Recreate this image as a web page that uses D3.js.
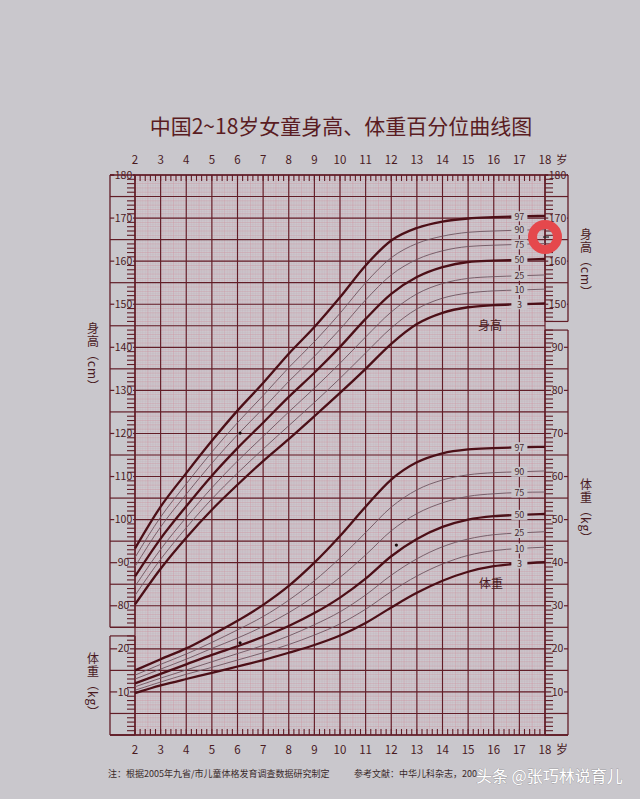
<!DOCTYPE html>
<html><head><meta charset="utf-8">
<script src="https://cdn.jsdelivr.net/npm/d3@7"></script>
<style>html,body{margin:0;padding:0;background:#c9c7cc;}svg{display:block;}</style>
</head><body>
<svg id="chart" width="640" height="799"></svg>
<script>
// ---------------- data ----------------
const ages = [2,3,4,5,6,7,8,9,10,11,12,13,14,15,16,17,18];
const percentiles = ["3","10","25","50","75","90","97"];
// height (cm)
const heightP3  = [80.3,88.6,95.8,102.3,108.1,113.6,118.7,124.0,129.4,135.0,140.8,145.4,148.0,149.3,149.8,150.0,150.2];
const heightP10 = [82.4,90.8,98.1,104.8,110.8,116.4,121.8,127.2,132.8,138.7,144.5,148.9,151.4,152.6,153.1,153.3,153.5];
const heightP25 = [84.5,93.1,100.5,107.4,113.6,119.3,125.0,130.5,136.3,142.4,148.2,152.4,154.8,156.0,156.4,156.6,156.8];
const heightP50 = [86.8,95.6,103.1,110.2,116.6,122.5,128.5,134.1,140.1,146.6,152.4,156.3,158.6,159.8,160.1,160.3,160.5];
const heightP75 = [89.1,98.3,105.9,113.1,119.7,125.8,132.1,137.9,144.2,151.0,156.8,160.4,162.4,163.4,163.7,163.9,164.1];
const heightP90 = [91.2,100.6,108.3,115.7,122.5,128.8,135.3,141.3,147.9,155.0,160.8,164.1,165.8,166.7,167.0,167.2,167.3];
const heightP97 = [93.3,103.0,110.8,118.3,125.3,131.7,138.5,144.7,151.6,159.0,164.8,167.7,169.2,169.9,170.2,170.4,170.5];
// weight (kg)
const weightP3  = [9.7,11.5,13.0,14.4,15.9,17.4,19.1,20.9,23.1,26.0,29.6,33.0,35.8,37.9,39.2,39.8,40.1];
const weightP10 = [10.4,12.3,14.1,15.7,17.4,19.1,21.0,23.2,25.8,29.2,33.3,36.9,39.7,41.7,42.8,43.3,43.6];
const weightP25 = [11.2,13.2,15.1,17.0,18.9,20.8,23.0,25.6,28.6,32.5,37.1,40.9,43.7,45.5,46.5,46.9,47.2];
const weightP50 = [12.0,14.2,16.4,18.6,20.6,22.8,25.3,28.3,31.9,36.3,41.5,45.5,48.3,50.0,50.8,51.1,51.3];
const weightP75 = [13.0,15.3,17.6,20.1,22.5,25.2,28.4,32.2,36.6,41.8,47.4,51.4,53.9,55.4,56.0,56.3,56.4];
const weightP90 = [13.9,16.4,18.8,21.5,24.4,27.5,31.3,35.8,41.1,47.0,52.9,56.9,59.2,60.4,60.9,61.1,61.3];
const weightP97 = [15.0,17.6,20.1,23.2,26.5,30.2,34.6,40.0,46.2,53.0,59.3,63.3,65.4,66.3,66.6,66.8,66.9];
// measured points marked on the chart
const measuredHeight = [[6.1,120.1]];
const measuredWeight = [[6.1,21.4],[12.2,44.1]];
// axis tick labels
const ageLabels = ["2","3","4","5","6","7","8","9","10","11","12","13","14","15","16","17","18"];
const heightTickLeft = [80,90,100,110,120,130,140,150,160,170,180];
const weightTickLeft = [10,20];
const heightTickRight = [150,160,170,180];
const weightTickRight = [10,20,30,40,50,60,70,80,90];

const heightSeries = [heightP3,heightP10,heightP25,heightP50,heightP75,heightP90,heightP97];
const weightSeries = [weightP3,weightP10,weightP25,weightP50,weightP75,weightP90,weightP97];

// ---------------- drawing ----------------
const svg = d3.select("#chart");
const W = 640, H = 799;
const L = 135, R = 545, T = 175, B = 735;
const x = d3.scaleLinear().domain([2,18]).range([L,R]);
const yW = d3.scaleLinear().domain([0,130]).range([B,T]);
const yH = d3.scaleLinear().domain([50,180]).range([B,T]);
const dark = "#621d27";
const txt = "#4a1a1f";
const pageBg = "#c9c7cc";
const font = "'Noto Sans CJK SC','Noto Sans',sans-serif";

svg.append("rect").attr("width",W).attr("height",H).attr("fill",pageBg);

// title
svg.append("text").attr("x",341).attr("y",134).attr("text-anchor","middle")
  .attr("font-family",font).attr("font-size",21).attr("fill","#5a1c22")
  .text("中国2~18岁女童身高、体重百分位曲线图");

// plot background
svg.append("rect").attr("x",L).attr("y",T).attr("width",R-L).attr("height",B-T).attr("fill","#ccc6cc");

const g = svg.append("g");
// fine mesh
for (let i = 0; i <= 160; i++) {
  const a = 2 + i/10;
  const mid = i % 5 === 0;
  g.append("line").attr("x1",x(a)).attr("x2",x(a)).attr("y1",T).attr("y2",B)
   .attr("stroke", mid ? "#cf8f9c" : "#c4a9b3").attr("stroke-width",mid?0.55:0.4).attr("opacity",mid?0.7:0.55);
}
for (let i = 0; i <= 260; i++) {
  const u = i/2;
  const one = i % 2 === 0;
  g.append("line").attr("x1",L).attr("x2",R).attr("y1",yW(u)).attr("y2",yW(u))
   .attr("stroke", one ? "#cf8f9c" : "#c4a9b3").attr("stroke-width",one?0.55:0.4).attr("opacity",one?0.7:0.55);
}
// dark grid
for (let u = 0; u <= 130; u += 5) {
  g.append("line").attr("x1",L).attr("x2",R).attr("y1",yW(u)).attr("y2",yW(u))
   .attr("stroke",dark).attr("stroke-width",1.15);
}
ages.forEach(a => {
  g.append("line").attr("x1",x(a)).attr("x2",x(a)).attr("y1",T).attr("y2",B)
   .attr("stroke",dark).attr("stroke-width",1.15);
});
// top / bottom ticks every 0.2 year
for (let i = 0; i <= 80; i++) {
  const a = 2 + i/5;
  g.append("line").attr("x1",x(a)).attr("x2",x(a)).attr("y1",T).attr("y2",T+6).attr("stroke",dark).attr("stroke-width",1.1);
  g.append("line").attr("x1",x(a)).attr("x2",x(a)).attr("y1",B).attr("y2",B-6).attr("stroke",dark).attr("stroke-width",1.1);
}

// side bands
function band(side, scale, lo, hi, labels) {
  const inner = side === "left" ? L : R;
  const outer = side === "left" ? 110 : 568;
  const dir = side === "left" ? -1 : 1;
  const bg = svg.append("g");
  bg.append("line").attr("x1",outer).attr("x2",outer).attr("y1",scale(lo)).attr("y2",scale(hi)).attr("stroke",dark).attr("stroke-width",1.3);
  bg.append("line").attr("x1",inner).attr("x2",inner).attr("y1",scale(lo)).attr("y2",scale(hi)).attr("stroke",dark).attr("stroke-width",1.4);
  bg.append("line").attr("x1",outer).attr("x2",inner).attr("y1",scale(lo)).attr("y2",scale(lo)).attr("stroke",dark).attr("stroke-width",1.2);
  bg.append("line").attr("x1",outer).attr("x2",inner).attr("y1",scale(hi)).attr("y2",scale(hi)).attr("stroke",dark).attr("stroke-width",1.2);
  for (let v = Math.ceil(lo); v <= hi; v++) {
    const len = v % 5 === 0 ? Math.abs(outer-inner) : 8;
    bg.append("line").attr("x1",inner).attr("x2",inner+dir*len).attr("y1",scale(v)).attr("y2",scale(v))
      .attr("stroke",dark).attr("stroke-width",v%5===0?1.2:1.1);
  }
  const cx = (inner+outer)/2 + 1;
  labels.forEach(v => {
    const t = bg.append("text").attr("x",cx).attr("y",scale(v)+3.6).attr("text-anchor","middle")
      .attr("font-family",font).attr("font-size",10.5).attr("fill",txt).text(v);
    const bb = t.node().getBBox();
    bg.insert("rect","text").attr("x",bb.x-0.5).attr("y",scale(v)-2.5).attr("width",bb.width+1).attr("height",5).attr("fill",pageBg);
  });
}
band("left", yH, 75, 180, heightTickLeft);
band("left", yW, 0, 23, weightTickLeft);
band("right", yH, 146, 180, heightTickRight);
band("right", yW, 0, 94, weightTickRight);
svg.append("line").attr("x1",110).attr("x2",568).attr("y1",T).attr("y2",T).attr("stroke",dark).attr("stroke-width",1.4);
svg.append("line").attr("x1",110).attr("x2",568).attr("y1",B).attr("y2",B).attr("stroke",dark).attr("stroke-width",1.6);

// age labels
ageLabels.forEach((s,i) => {
  svg.append("text").attr("x",x(ages[i])).attr("y",164).attr("text-anchor","middle")
    .attr("font-family",font).attr("font-size",11.5).attr("fill",txt).text(s);
  svg.append("text").attr("x",x(ages[i])).attr("y",754).attr("text-anchor","middle")
    .attr("font-family",font).attr("font-size",11.5).attr("fill",txt).text(s);
});
svg.append("text").attr("x",556).attr("y",163.5).attr("font-family",font).attr("font-size",11.5).attr("fill",txt).text("岁");
svg.append("text").attr("x",556).attr("y",754).attr("font-family",font).attr("font-size",12).attr("fill",txt).text("岁");

// vertical axis titles
function vtitle(xp, yp, s) {
  svg.append("text").attr("x",xp).attr("y",yp).attr("font-family",font).attr("font-size",12)
    .attr("fill",txt).style("writing-mode","vertical-rl").style("letter-spacing","1px").text(s);
}
vtitle(93, 322, "身高（cm）");
vtitle(93, 652, "体重（kg）");
vtitle(586, 228, "身高（cm）");
vtitle(586, 478, "体重（kg）");

// curves
const thick = ["3","50","97"];
function drawCurves(series, scale) {
  series.forEach((vals, i) => {
    const p = percentiles[i];
    const line = d3.line().x(d => x(d[0])).y(d => scale(d[1])).curve(d3.curveMonotoneX);
    svg.append("path").datum(ages.map((a,j) => [a, vals[j]])).attr("d", line)
      .attr("fill","none")
      .attr("stroke", thick.includes(p) ? "#4c0f17" : "#6e5560")
      .attr("stroke-width", thick.includes(p) ? 2.3 : 0.9);
  });
  series.forEach((vals, i) => {
    const p = percentiles[i];
    const yy = scale(vals[ages.indexOf(17)]);
    svg.append("rect").attr("x",x(17)-8).attr("y",yy-5).attr("width",16).attr("height",10).attr("fill","#c9c5ca");
    svg.append("text").attr("x",x(17)).attr("y",yy+3.3).attr("text-anchor","middle")
      .attr("font-family",font).attr("font-size",9).attr("fill","#4a2a30").text(p);
  });
}
drawCurves(heightSeries, yH);
drawCurves(weightSeries, yW);

svg.append("text").attr("x",490).attr("y",330).attr("text-anchor","middle").attr("font-family",font)
  .attr("font-size",12).attr("fill",txt).text("身高");
svg.append("text").attr("x",491).attr("y",588).attr("text-anchor","middle").attr("font-family",font)
  .attr("font-size",12).attr("fill",txt).text("体重");

// measured points
measuredHeight.forEach(d => svg.append("circle").attr("cx",x(d[0])).attr("cy",yH(d[1])).attr("r",1.6).attr("fill","#1a0a0a"));
measuredWeight.forEach(d => svg.append("circle").attr("cx",x(d[0])).attr("cy",yW(d[1])).attr("r",1.6).attr("fill","#1a0a0a"));

// red annotation ring
svg.append("circle").attr("cx",x(18)).attr("cy",yH(165.6)).attr("r",12.5).attr("fill","none")
  .attr("stroke","#e5484c").attr("stroke-width",9);
svg.append("line").attr("x1",x(18)-2).attr("x2",x(18)+4).attr("y1",yH(165.6)).attr("y2",yH(165.6)).attr("stroke","#222").attr("stroke-width",1.2);

// footnotes
svg.append("text").attr("x",108).attr("y",777).attr("font-family",font).attr("font-size",9).attr("fill","#3a2a2a")
  .text("注：根据2005年九省/市儿童体格发育调查数据研究制定");
svg.append("text").attr("x",354).attr("y",777).attr("font-family",font).attr("font-size",9).attr("fill","#3a2a2a")
  .text("参考文献：中华儿科杂志，200");
svg.append("text").attr("x",476).attr("y",782).attr("font-family",font).attr("font-size",16).attr("fill","#ffffff")
  .style("paint-order","stroke").attr("stroke","rgba(80,80,80,0.35)").attr("stroke-width",0.8)
  .text("头条 @张巧林说育儿");
</script>
</body></html>
